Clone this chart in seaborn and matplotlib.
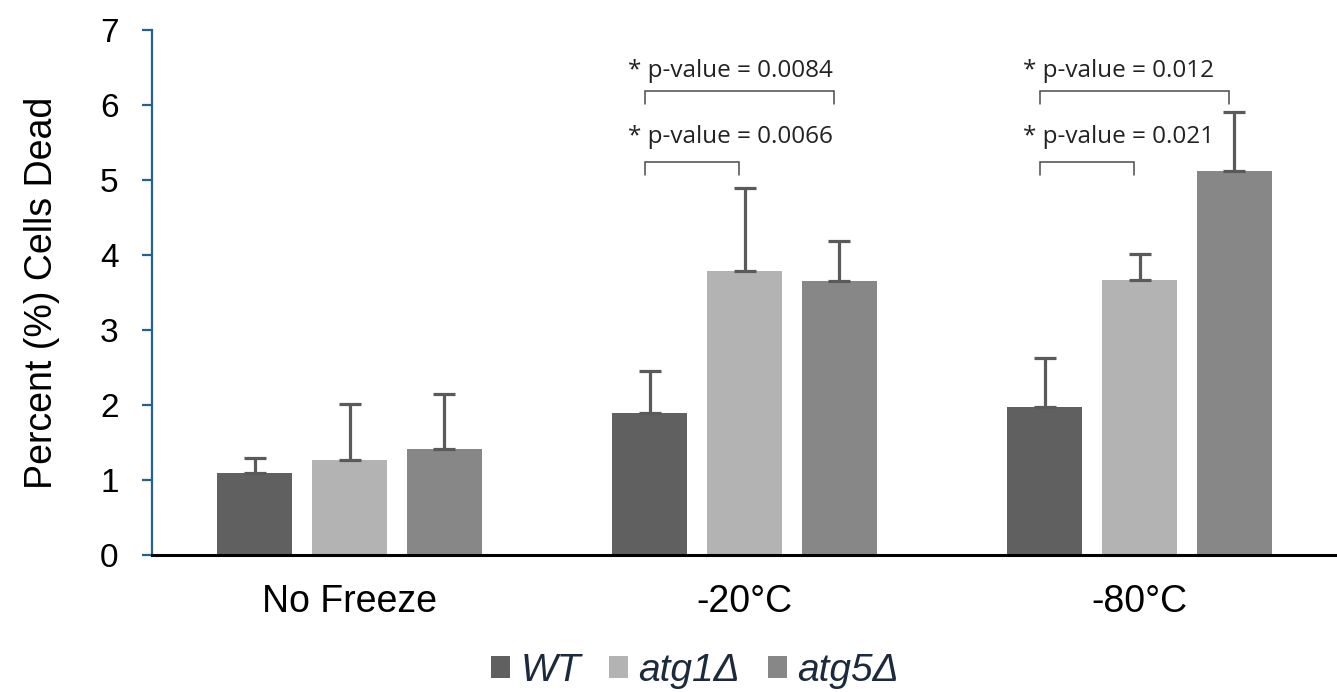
import matplotlib
matplotlib.use("Agg")
import matplotlib.pyplot as plt
import seaborn as sns
import pandas as pd
from matplotlib.patches import Patch

# ---- data ----
groups = ["No Freeze", "-20°C", "-80°C"]
strains = ["WT", "atg1Δ", "atg5Δ"]
wt = [1.10, 1.89, 1.97]
wt_err = [0.20, 0.57, 0.66]
atg1 = [1.27, 3.79, 3.67]
atg1_err = [0.75, 1.11, 0.34]
atg5 = [1.41, 3.66, 5.12]
atg5_err = [0.74, 0.53, 0.79]
colors = ["#606060", "#b3b3b3", "#878787"]
# significance annotations: (group index, strain a, strain b, label, level)
sig = [
    (1, 0, 1, "* p-value = 0.0066", 0),
    (1, 0, 2, "* p-value = 0.0084", 1),
    (2, 0, 1, "* p-value = 0.021", 0),
    (2, 0, 2, "* p-value = 0.012", 1),
]

values = [wt, atg1, atg5]
errors = [wt_err, atg1_err, atg5_err]
rows = []
for s, vals in zip(strains, values):
    for g, v in zip(groups, vals):
        rows.append({"condition": g, "strain": s, "value": v})
df = pd.DataFrame(rows)

sns.set_theme(style="white")
plt.rcParams["font.family"] = ["Liberation Sans", "DejaVu Sans"]

fig = plt.figure(figsize=(13.37, 6.92), dpi=100)
ax = fig.add_axes([152 / 1337, 137 / 692, 1185 / 1337, 525 / 692])

sns.barplot(data=df, x="condition", y="value", hue="strain", order=groups,
            hue_order=strains, palette=colors, saturation=1, width=0.72,
            gap=0.21, errorbar=None, legend=False, linewidth=0, ax=ax)

# error bars (upper only) placed on the bars seaborn drew
bar_containers = list(ax.containers)
centers = {}
for i, cont in enumerate(bar_containers):
    for j, bar in enumerate(cont.patches):
        xc = bar.get_x() + bar.get_width() / 2
        centers[(j, i)] = xc
        ax.errorbar(xc, bar.get_height(), yerr=[[0], [errors[i][j]]],
                    fmt="none", ecolor="#5a5a5a", elinewidth=2.3,
                    capsize=8, capthick=2.3, zorder=3)

# brackets
levels = {0: (5.24, 5.07, 5.49), 1: (6.19, 6.02, 6.37)}
for g, a, b, label, lvl in sig:
    ytop, yleg, ytxt = levels[lvl]
    x1 = centers[(g, a)] - 0.013
    x2 = centers[(g, b)] - 0.013
    ax.plot([x1, x1, x2, x2], [yleg, ytop, ytop, yleg], color="#4a4a4a",
            lw=1.1, solid_joinstyle="miter", clip_on=False)
    ax.text(centers[(g, a)] - 0.054, ytxt, label, family=["Open Sans", "DejaVu Sans"],
            fontsize=17.5, color="#222222", ha="left", va="baseline")

ax.set_ylim(0, 7)
ax.set_xlim(-0.5, 2.5)
ax.set_yticks(range(0, 8))
ax.set_xlabel("")
ax.set_ylabel("Percent (%) Cells Dead", fontsize=27, color="black")
ax.yaxis.set_label_coords(-0.078, 0.5)

for sp in ["top", "right"]:
    ax.spines[sp].set_visible(False)
ax.spines["left"].set_color("#20638f")
ax.spines["left"].set_linewidth(1.6)
ax.spines["bottom"].set_color("black")
ax.spines["bottom"].set_linewidth(2.2)

ax.tick_params(axis="y", left=True, direction="out", length=7, width=1.6,
               color="#20638f", labelsize=24, pad=17, labelcolor="black")
ax.tick_params(axis="x", bottom=False, length=0, labelsize=27, pad=21,
               labelcolor="black")

handles = [Patch(facecolor=c, edgecolor="none") for c in colors]
fig.legend(handles, strains, loc="center", bbox_to_anchor=(695 / 1337, 1 - 671 / 692),
           ncol=3, frameon=False, prop=dict(style="italic", size=28),
           labelcolor="#1b2a3c", handlelength=0.5, handleheight=0.5,
           handletextpad=0.26, columnspacing=0.72)

fig.savefig("out.png", dpi=100, facecolor="white")
